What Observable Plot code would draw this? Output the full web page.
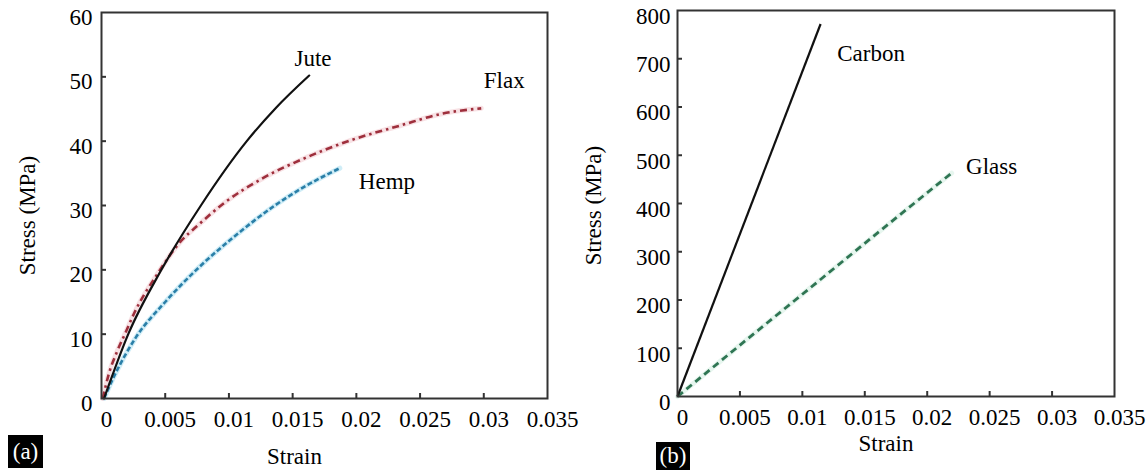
<!DOCTYPE html>
<html>
<head>
<meta charset="utf-8">
<script src="https://cdn.jsdelivr.net/npm/d3@7"></script>
<script src="https://cdn.jsdelivr.net/npm/@observablehq/plot@0.6"></script>
<style>
  html, body { margin: 0; padding: 0; background: #fff; }
  #wrap { position: relative; width: 1146px; height: 470px; display: flex; font-family: "Liberation Serif", "Times New Roman", serif; }
  #wrap svg { display: block; }
  .tag { position: absolute; background: #000; color: #fff; font-family: "Liberation Serif", serif; font-size: 23px; display: flex; align-items: center; justify-content: center; }
</style>
</head>
<body>
<div id="wrap">
  <div id="left"></div>
  <div id="right"></div>
  <div class="tag" style="left:8px;top:435px;width:35px;height:33px;">(a)</div>
  <div class="tag" style="left:656px;top:442px;width:34px;height:28px;">(b)</div>
</div>
<script>
// ---------- Panel (a): natural fibres ----------
const juteStrain = [0.0002, 0.0021, 0.0047, 0.0078, 0.0114, 0.0137, 0.0163];
const juteStress = [0, 10, 20, 30, 40, 45.2, 50.2];

const flaxStrain = [0.0001, 0.0006, 0.0012, 0.0019, 0.0026, 0.0043, 0.0063, 0.0075, 0.0097, 0.0128, 0.0160, 0.0195, 0.0234, 0.0268, 0.0298];
const flaxStress = [0, 4, 7.2, 10.3, 13.4, 19.1, 24.6, 26.8, 30.5, 34.4, 37.4, 40.1, 42.4, 44.3, 45.1];

const hempStrain = [0.0002, 0.0010, 0.0027, 0.0050, 0.0076, 0.0105, 0.0136, 0.0160, 0.0187];
const hempStress = [0, 3.5, 9.5, 15, 20.3, 25.3, 30.0, 33.0, 35.8];

const aXTicks = [0, 0.005, 0.01, 0.015, 0.02, 0.025, 0.03, 0.035];
const aYTicks = [0, 10, 20, 30, 40, 50, 60];
const aLabels = ["Jute", "Flax", "Hemp"];
const aLabelStrain = [0.0166, 0.0316, 0.0224];
const aLabelStress = [52.8, 49.4, 33.7];

// ---------- Panel (b): synthetic fibres ----------
const carbonStrain = [0, 0.01146];
const carbonStress = [0, 772];

const glassStrain = [0, 0.0055, 0.011, 0.0165, 0.02195];
const glassStress = [0, 117, 233, 349, 463];

const bXTicks = [0, 0.005, 0.01, 0.015, 0.02, 0.025, 0.03, 0.035];
const bYTicks = [0, 100, 200, 300, 400, 500, 600, 700, 800];
const bLabels = ["Carbon", "Glass"];
const bLabelStrain = [0.0155, 0.02516];
const bLabelStress = [711, 476];

const FONT = "'Liberation Serif', 'Times New Roman', serif";
const FS = 23;

const rows = (xs, ys) => xs.map((x, i) => ({strain: x, stress: ys[i]}));
const labelRows = (names, xs, ys) => names.map((n, i) => ({name: n, strain: xs[i], stress: ys[i]}));

function panel(cfg) {
  const W = 573, H = 470;
  const innerW = W - cfg.marginLeft - cfg.marginRight;
  const innerH = H - cfg.marginTop - cfg.marginBottom;
  const marks = [];
  for (const s of cfg.series) {
    if (s.halo) marks.push(Plot.line(s.data, {x: "strain", y: "stress", stroke: s.halo, strokeWidth: 5, strokeOpacity: 0.5, curve: "monotone-x"}));
  }
  for (const s of cfg.series) {
    marks.push(Plot.line(s.data, {x: "strain", y: "stress", stroke: s.color, strokeWidth: s.width, strokeDasharray: s.dash, strokeLinecap: s.cap || "butt", curve: "monotone-x"}));
  }
  marks.push(
    Plot.tickX(cfg.xTicks.slice(1, -1), {x: d => d, stroke: "#333", strokeWidth: 2, insetTop: innerH - 5}),
    Plot.tickY(cfg.yTicks.slice(1, -1), {y: d => d, stroke: "#333", strokeWidth: 2, insetRight: innerW - 5}),
    Plot.axisX(cfg.xTicks, {tickSize: 0, tickPadding: cfg.xPad, dx: 5, tickFormat: d => String(d), fontSize: FS, fontFamily: FONT, fill: "#000", label: null}),
    Plot.axisY(cfg.yTicks, {tickSize: 0, tickPadding: cfg.yPad, dy: cfg.yDy, tickFormat: d => String(d), fontSize: FS, fontFamily: FONT, fill: "#000", label: null}),
    Plot.frame({stroke: "#333", strokeWidth: 2}),
    Plot.text(cfg.labels, {x: "strain", y: "stress", text: "name", fontSize: FS, fontFamily: FONT, fill: "#000", textAnchor: "middle"}),
    Plot.text(["Stress (MPa)"], {frameAnchor: "left", text: d => d, rotate: -90, textAnchor: "middle", lineAnchor: "top", dx: cfg.yTitleDx, dy: cfg.yTitleDy, fontSize: FS, fontFamily: FONT, fill: "#000"}),
    Plot.text(["Strain"], {frameAnchor: "bottom", text: d => d, textAnchor: "middle", lineAnchor: "middle", dx: cfg.xTitleDx, dy: cfg.xTitleDy, fontSize: FS, fontFamily: FONT, fill: "#000"})
  );
  return Plot.plot({
    width: W, height: H,
    marginLeft: cfg.marginLeft, marginRight: cfg.marginRight, marginTop: cfg.marginTop, marginBottom: cfg.marginBottom,
    style: {fontFamily: FONT, fontSize: FS + "px", background: "transparent", overflow: "visible"},
    x: {domain: [0, 0.035]},
    y: {domain: cfg.yDomain},
    marks
  });
}

document.getElementById("left").appendChild(panel({
  marginLeft: 101, marginRight: 26, marginTop: 12, marginBottom: 72,
  yDomain: [0, 60], xTicks: aXTicks, yTicks: aYTicks,
  xPad: 12, yPad: 9, yDy: 5,
  yTitleDx: -83, yTitleDy: 10, xTitleDx: -30, xTitleDy: 58,
  labels: labelRows(aLabels, aLabelStrain, aLabelStress),
  series: [
    {data: rows(hempStrain, hempStress), color: "#2a7fa8", width: 2.6, dash: "5,2.5", halo: "#9fdcf0"},
    {data: rows(flaxStrain, flaxStress), color: "#9e2f3c", width: 2.6, dash: "7,4,2.5,4", halo: "#f2c6cb"},
    {data: rows(juteStrain, juteStress), color: "#111", width: 2.2, dash: null, cap: "round"}
  ]
}));

document.getElementById("right").appendChild(panel({
  marginLeft: 104, marginRight: 32, marginTop: 10, marginBottom: 74,
  yDomain: [0, 800], xTicks: bXTicks, yTicks: bYTicks,
  xPad: 12, yPad: 7, yDy: 6,
  yTitleDx: -93, yTitleDy: 2, xTitleDx: -10, xTitleDy: 47,
  labels: labelRows(bLabels, bLabelStrain, bLabelStress),
  series: [
    {data: rows(glassStrain, glassStress), color: "#2f7553", width: 2.8, dash: "7,4.5", halo: "#cfeee0"},
    {data: rows(carbonStrain, carbonStress), color: "#111", width: 2.2, dash: null}
  ]
}));
</script>
</body>
</html>
